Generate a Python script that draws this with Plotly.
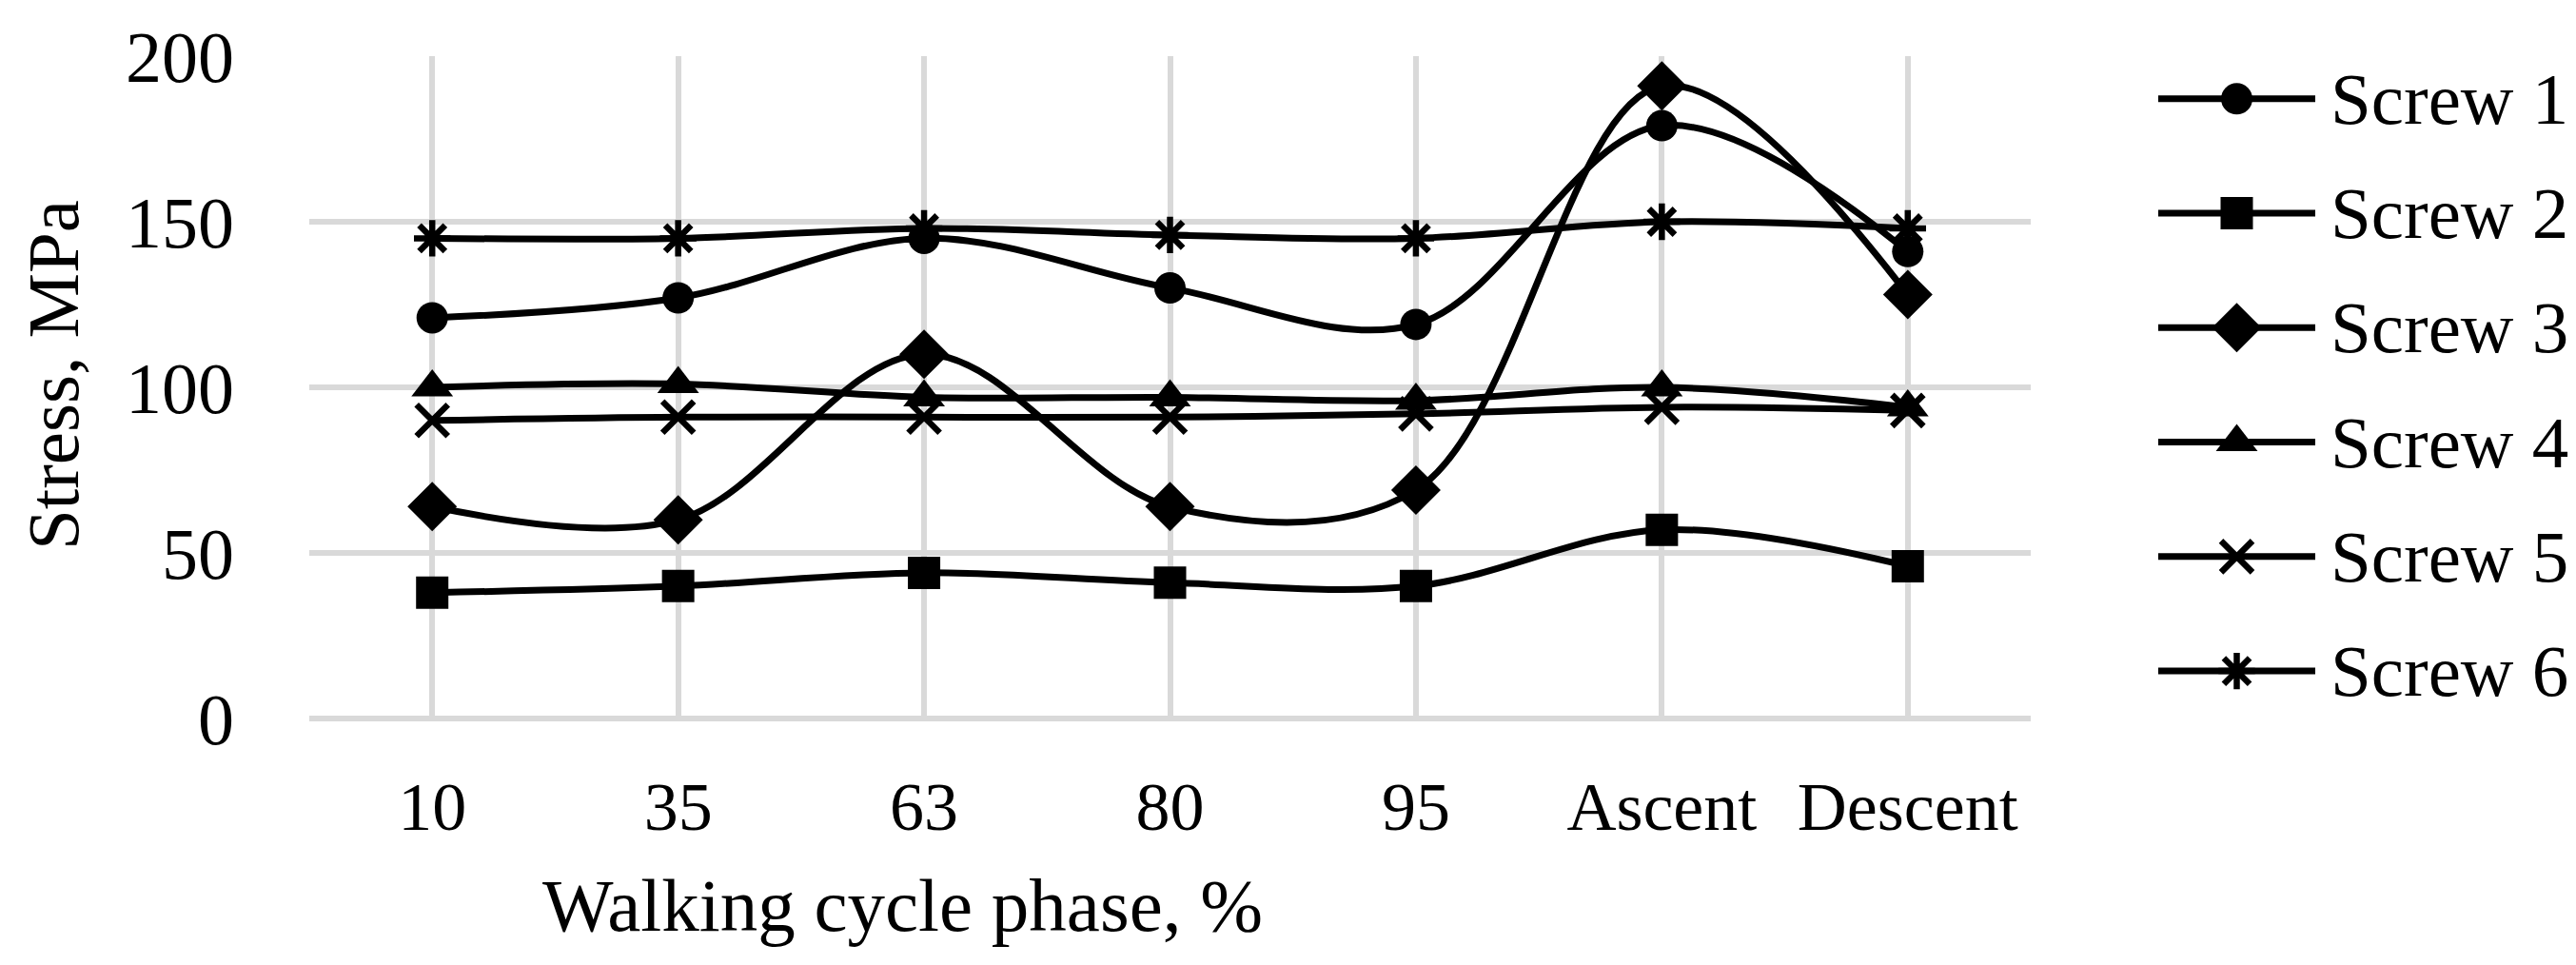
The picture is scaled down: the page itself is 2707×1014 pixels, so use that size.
import plotly.graph_objects as go

categories = ["10", "35", "63", "80", "95", "Ascent", "Descent"]
series_names = ["Screw 1", "Screw 2", "Screw 3", "Screw 4", "Screw 5", "Screw 6"]
screw1 = [121, 127, 145, 130, 119, 179, 141]
screw2 = [38, 40, 44, 41, 40, 57, 46]
screw3 = [64, 60, 110, 64, 69, 191, 128]
screw4 = [100, 101, 97, 97, 96, 100, 94]
screw5 = [90, 91, 91, 91, 92, 94, 93]
screw6 = [145, 145, 148, 146, 145, 150, 148]
y_ticks = [0, 50, 100, 150, 200]
x_title = "Walking cycle phase, %"
y_title = "Stress, MPa"

series_values = [screw1, screw2, screw3, screw4, screw5, screw6]
symbols = ["circle", "square", "diamond", "triangle-up", "x-thin-open", "asterisk-open"]
sizes = [33, 34, 40, 38, 33, 32]

FONT = "Liberation Serif"
W, H = 2707, 1014
ML, MR, MT, MB = 317, 10, 49, 267
paper_w = W - ML - MR
paper_h = H - MT - MB
plot_right = 2126
plot_bottom = H - MB
main_dom = (plot_right - ML) / paper_w
LW = 7
MLW = 6.5


def px_to_paper_x(px):
    return (px - ML) / paper_w


def px_to_paper_y(py):
    return (plot_bottom - py) / paper_h


fig = go.Figure()

for name, vals, sym, sz in zip(series_names, series_values, symbols, sizes):
    open_sym = sym.endswith("open")
    fig.add_trace(go.Scatter(
        x=categories, y=vals, name=name, mode="lines+markers",
        line=dict(color="black", width=LW, shape="spline", smoothing=1.0),
        marker=dict(symbol=sym, size=sz, color="black",
                    line=dict(color="black", width=MLW if open_sym else 0)),
        showlegend=False, cliponaxis=False, xaxis="x", yaxis="y",
    ))

# custom legend drawn on a hidden helper axis
for i, (name, sym, sz) in enumerate(zip(series_names, symbols, sizes)):
    open_sym = sym.endswith("open")
    fig.add_trace(go.Scatter(
        x=[0, 1], y=[i, i], mode="lines", line=dict(color="black", width=LW),
        showlegend=False, hoverinfo="skip", cliponaxis=False, xaxis="x2", yaxis="y2"))
    fig.add_trace(go.Scatter(
        x=[0.5], y=[i], mode="markers",
        marker=dict(symbol=sym, size=sz, color="black",
                    line=dict(color="black", width=MLW if open_sym else 0)),
        showlegend=False, hoverinfo="skip", cliponaxis=False, xaxis="x2", yaxis="y2"))
    fig.add_annotation(text=name, xref="paper", x=px_to_paper_x(2439), xanchor="left",
                       yref="y2", y=i, yanchor="middle", showarrow=False,
                       font=dict(family=FONT, size=77, color="black"))

fig.add_annotation(text=x_title, xref="paper", x=px_to_paper_x(940), xanchor="center",
                   yref="paper", y=px_to_paper_y(944), yanchor="middle", showarrow=False,
                   font=dict(family=FONT, size=79, color="black"))
fig.add_annotation(text=y_title, xref="paper", x=px_to_paper_x(48), xanchor="center",
                   yref="paper", y=px_to_paper_y(385), yanchor="middle",
                   textangle=-90, showarrow=False,
                   font=dict(family=FONT, size=77, color="black"))

fig.update_layout(
    width=W, height=H,
    margin=dict(l=ML, r=MR, t=MT, b=MB),
    paper_bgcolor="white", plot_bgcolor="white",
    font=dict(family=FONT, size=74, color="black"),
    xaxis=dict(domain=[0, main_dom], type="category", categoryorder="array",
               categoryarray=categories, range=[-0.5, len(categories) - 0.5],
               showgrid=True, gridcolor="#d9d9d9", gridwidth=6, showline=False,
               zeroline=False, ticks="", ticklabelstandoff=44,
               tickfont=dict(family=FONT, size=72, color="black"), anchor="y"),
    yaxis=dict(range=[0, 200], tickvals=y_ticks, showgrid=True, gridcolor="#d9d9d9",
               gridwidth=6, zeroline=True, zerolinecolor="#d9d9d9", zerolinewidth=6,
               showline=False, ticks="", ticklabelstandoff=78,
               tickfont=dict(family=FONT, size=76, color="black"), anchor="x"),
    xaxis2=dict(domain=[px_to_paper_x(2260), px_to_paper_x(2425)], range=[0, 1],
                visible=False, anchor="y2", fixedrange=True),
    yaxis2=dict(domain=[0, 1], range=[5.415, -0.373], visible=False, anchor="x2",
                fixedrange=True),
    showlegend=False,
)

fig.write_html("out.html")
